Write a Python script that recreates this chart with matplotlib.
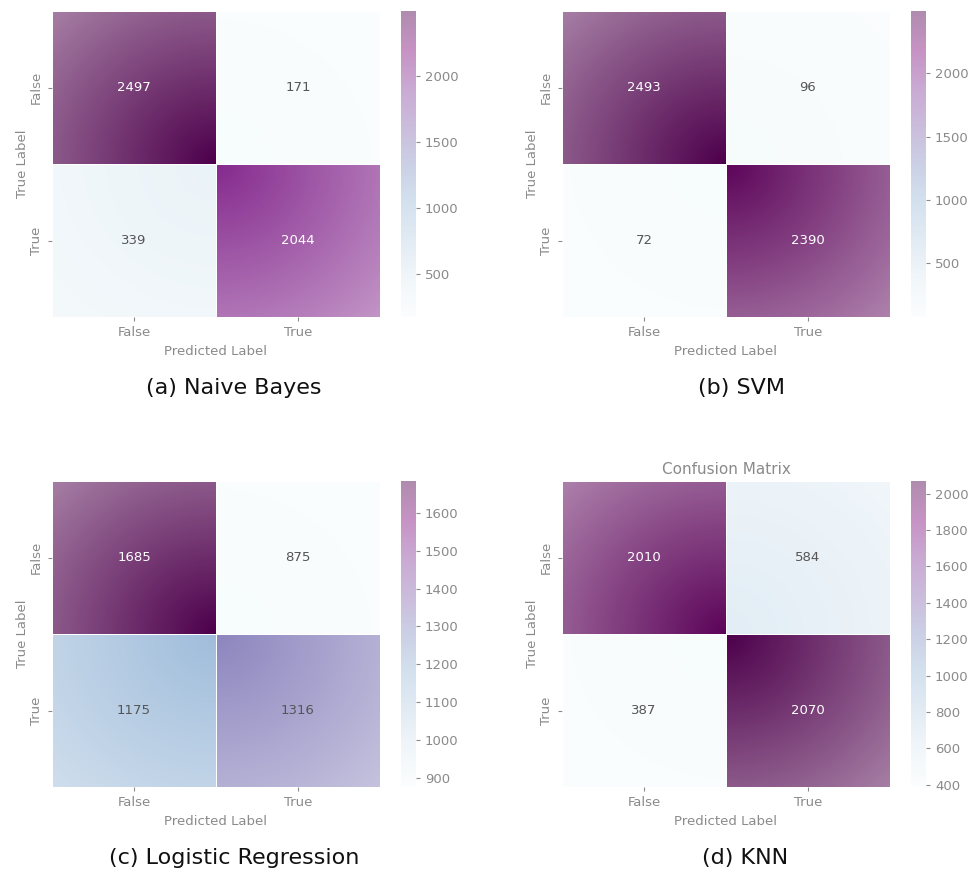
import numpy as np
import matplotlib
matplotlib.use("Agg")
import matplotlib.pyplot as plt
import seaborn as sns

# confusion matrices
labels = ["False", "True"]
nb_cm = [[2497, 171], [339, 2044]]
svm_cm = [[2493, 96], [72, 2390]]
lr_cm = [[1685, 875], [1175, 1316]]
knn_cm = [[2010, 584], [387, 2070]]
captions = ["(a) Naive Bayes", "(b) SVM", "(c) Logistic Regression", "(d) KNN"]
titles = ["", "", "", "Confusion Matrix"]

W, H = 974, 873
fig = plt.figure(figsize=(W / 100, H / 100), dpi=100)

gray = "#8a8a8a"

def px_axes(x0, y0, x1, y1):
    return fig.add_axes([x0 / W, 1 - y1 / H, (x1 - x0) / W, (y1 - y0) / H])

# heatmap box, colorbar box, caption position
panels = [
    ((52, 11, 380, 317), (401, 11, 416, 317), (234, 388)),
    ((562, 11, 890, 317), (911, 11, 926, 317), (742, 388)),
    ((52, 481, 380, 787), (401, 481, 416, 787), (234, 858)),
    ((562, 481, 890, 787), (911, 481, 926, 787), (745, 858)),
]

# soft white fade towards the outer corners of each matrix
gx, gy = np.meshgrid(np.linspace(0, 2, 200), np.linspace(0, 2, 200))
dist = np.sqrt((gx - 1) ** 2 + (gy - 1) ** 2) / np.sqrt(2)
fade = np.ones((200, 200, 4))
fade[..., 3] = 0.5 * dist

for cm, cap, ttl, (hbox, cbox, cpos) in zip([nb_cm, svm_cm, lr_cm, knn_cm], captions, titles, panels):
    cm = np.array(cm)
    ax = px_axes(*hbox)
    cax = px_axes(*cbox)
    sns.heatmap(cm, annot=False, cmap="BuPu", ax=ax, cbar_ax=cax,
                xticklabels=labels, yticklabels=labels, linewidths=0.5, linecolor="white")
    ax.imshow(fade, extent=(0, 2, 2, 0), zorder=2, aspect="auto", interpolation="bilinear")
    ax.set_xlim(0, 2)
    ax.set_ylim(2, 0)
    lo, hi = cm.min(), cm.max()
    for i in range(2):
        for j in range(2):
            frac = (cm[i, j] - lo) / (hi - lo)
            ax.text(j + 0.5, i + 0.5, str(cm[i, j]), ha="center", va="center", fontsize=9.5,
                    color="white" if frac > 0.6 else "#555555", zorder=5)
    ax.set_xlabel("Predicted Label", fontsize=9.5, color=gray)
    ax.set_ylabel("True Label", fontsize=9.5, color=gray, labelpad=1)
    ax.tick_params(colors=gray, labelsize=9.5, length=3)
    plt.setp(ax.get_yticklabels(), rotation=90, va="center")
    if ttl:
        ax.set_title(ttl, fontsize=11, color=gray, pad=5)
    cbar = ax.collections[0].colorbar
    cbar.solids.set_alpha(0.45)
    cbar.ax.tick_params(colors=gray, labelsize=9.5, length=3)
    fig.text(cpos[0] / W, 1 - cpos[1] / H, cap, fontsize=16, ha="center", va="center", color="#111111")

fig.savefig("out.png", dpi=100)
